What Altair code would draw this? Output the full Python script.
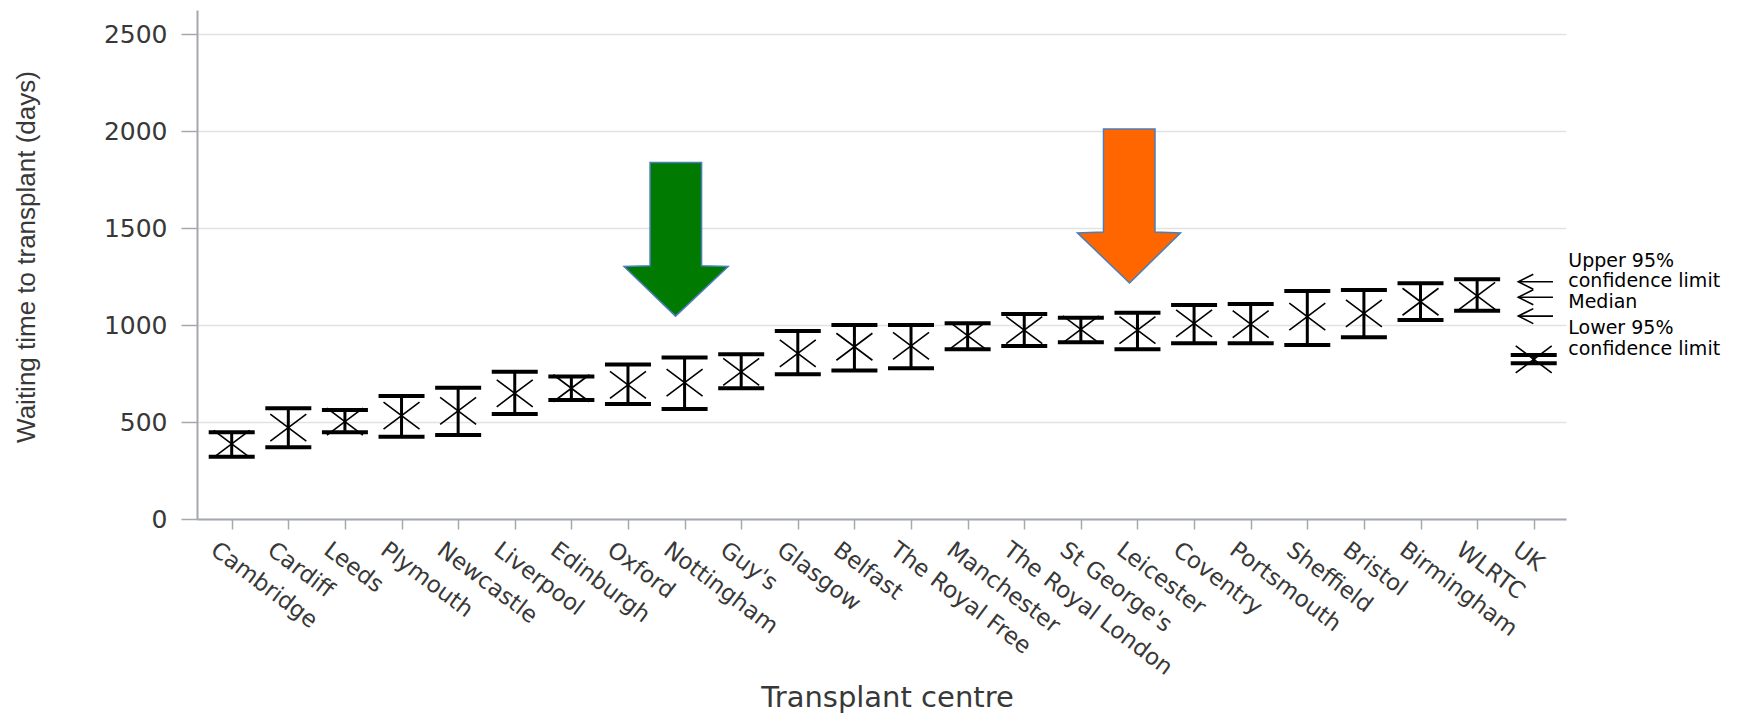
import json
import altair as alt
import pandas as pd

# ---------------- data ----------------
centres = ["Cambridge", "Cardiff", "Leeds", "Plymouth", "Newcastle", "Liverpool",
           "Edinburgh", "Oxford", "Nottingham", "Guy's", "Glasgow", "Belfast",
           "The Royal Free", "Manchester", "The Royal London", "St George's",
           "Leicester", "Coventry", "Portsmouth", "Sheffield", "Bristol",
           "Birmingham", "WLRTC", "UK"]
position = list(range(24))
median = [387, 471, 502, 533, 557, 648, 674, 691, 703, 759, 854, 888,
          892, 945, 974, 978, 974, 1009, 1005, 1043, 1060, 1120, 1150, 823]
upper = [447, 571, 562, 634, 677, 759, 734, 797, 832, 849, 969, 1000,
         1000, 1009, 1057, 1038, 1063, 1103, 1108, 1175, 1180, 1215, 1236, 845]
lower = [321, 370, 447, 424, 433, 541, 613, 593, 567, 674, 746, 765,
         777, 875, 892, 911, 875, 906, 906, 897, 937, 1026, 1074, 803]

y_ticks = [0, 500, 1000, 1500, 2000, 2500]

# block arrows (value on y, centre position on x)
green_y = [1838, 1306, 1302, 1046]
green_left = [7.39, 7.39, 6.93, 7.84]
green_right = [8.30, 8.30, 8.77, 7.84]
orange_y = [2010, 1479, 1475, 1217]
orange_left = [15.40, 15.40, 14.94, 15.86]
orange_right = [16.31, 16.31, 16.76, 15.86]

# key at the right
key_arrow_y = [1223, 1143, 1046]
key_arrow_from = [22.73, 22.73, 22.73]
key_arrow_to = [23.34, 23.34, 23.34]
key_head_x = [22.86, 22.86, 22.86]
key_text = ["Upper 95%", "confidence limit", "Median", "Lower 95%", "confidence limit"]
key_text_y = [1331, 1228, 1119, 985, 876]
key_text_x = [23.61, 23.61, 23.61, 23.61, 23.61]

# ---------------- tables ----------------
bars = pd.DataFrame({"pos": position, "centre": centres, "median": median,
                     "upper": upper, "lower": lower})
green = pd.DataFrame({"y": green_y, "l": green_left, "r": green_right})
orange = pd.DataFrame({"y": orange_y, "l": orange_left, "r": orange_right})
key_arrows = pd.DataFrame({"y": key_arrow_y, "a": key_arrow_from, "b": key_arrow_to, "h": key_head_x})
key_labels = pd.DataFrame({"t": key_text, "y": key_text_y, "x": key_text_x})

xs = alt.Scale(domain=[-0.613, 23.57], nice=False, zero=False)
ys = alt.Scale(domain=[0, 2624], nice=False, zero=True)

AX = "#a3a8ae"
TXT = "#383838"
label_expr = "[" + ",".join(json.dumps(c) for c in centres) + "][datum.value]"

x_axis = alt.Axis(values=position, labelExpr=label_expr, labelAngle=37,
                  labelAlign="left", labelBaseline="top", labelFont="DejaVu Sans",
                  labelFontSize=23, labelColor=TXT, labelPadding=9,
                  labelOffset=-12, labelLimit=0,
                  labelOverlap=False, labelFlush=False, labelBound=False,
                  tickSize=10, tickColor=AX, tickWidth=1.5,
                  domainColor=AX, domainWidth=2, grid=False,
                  title="Transplant centre", titleFont="DejaVu Sans",
                  titleFontSize=29, titleFontWeight="normal", titleColor=TXT,
                  titleX=690, titleY=178, titleBaseline="middle", titleAlign="center")
y_axis = alt.Axis(values=y_ticks, format="d", grid=True, gridColor="#e2e2e2",
                  gridWidth=1.5, domainColor=AX, domainWidth=2, tickColor=AX,
                  tickSize=16, tickWidth=1.5, labelFont="DejaVu Sans",
                  labelFontSize=25, labelColor=TXT, labelPadding=14,
                  labelFlush=False, labelOverlap=False,
                  title="Waiting time to transplant (days)",
                  titleFont="Liberation Sans", titleFontSize=26,
                  titleFontWeight="normal", titleColor=TXT,
                  titleX=-171, titleY=246.5, titleAngle=270,
                  titleBaseline="middle", titleAlign="center")


def X(field):
    return alt.X(field, type="quantitative", scale=xs, axis=x_axis)


def Y(field):
    return alt.Y(field, type="quantitative", scale=ys, axis=y_axis)


base = alt.Chart(bars)

stem = base.mark_rule(color="black", strokeWidth=3).encode(
    x=X("pos"), y=Y("lower"), y2="upper:Q",
)
cap_up = base.mark_tick(orient="horizontal", color="black", thickness=4,
                        size=46, opacity=1).encode(x=X("pos"), y=Y("upper"))
cap_lo = base.mark_tick(orient="horizontal", color="black", thickness=4,
                        size=46, opacity=1).encode(x=X("pos"), y=Y("lower"))
xmark = base.mark_point(shape="M-1,-0.75L1,0.75M-1,0.75L1,-0.75", size=1296,
                        filled=False, stroke="black", strokeWidth=1.6,
                        opacity=1).encode(x=X("pos"), y=Y("median"))


def block_arrow(df, fill):
    return alt.Chart(df).mark_area(orient="horizontal", color=fill, fill=fill,
                                   fillOpacity=1, stroke="#4a7ebb",
                                   strokeWidth=1.5, opacity=1).encode(
        y=Y("y"), x=X("l"), x2="r:Q",
    )


green_arrow = block_arrow(green, "#007a00")
orange_arrow = block_arrow(orange, "#ff6600")

key_lines = alt.Chart(key_arrows).mark_rule(color="black", strokeWidth=1.6).encode(
    x=X("a"), x2="b:Q", y=Y("y"),
)
key_heads = alt.Chart(key_arrows).mark_point(shape="M1,-1L-1,0L1,1", size=225,
                                             filled=False, stroke="black",
                                             strokeWidth=1.6, opacity=1).encode(
    x=X("h"), y=Y("y"),
)
key_txt = alt.Chart(key_labels).mark_text(align="left", baseline="middle",
                                          font="DejaVu Sans", fontSize=19,
                                          color="black").encode(
    x=X("x"), y=Y("y"), text="t:N",
)

chart = alt.layer(stem, cap_up, cap_lo, xmark, green_arrow, orange_arrow,
                  key_lines, key_heads, key_txt).properties(
    width=1369, height=509,
    autosize=alt.AutoSizeParams(type="none"),
    padding={"left": 189, "top": 2, "right": 164, "bottom": 194},
    background="white",
).configure_view(stroke=None)

chart.save("out.html", embed_options={"renderer": "svg", "actions": False})
